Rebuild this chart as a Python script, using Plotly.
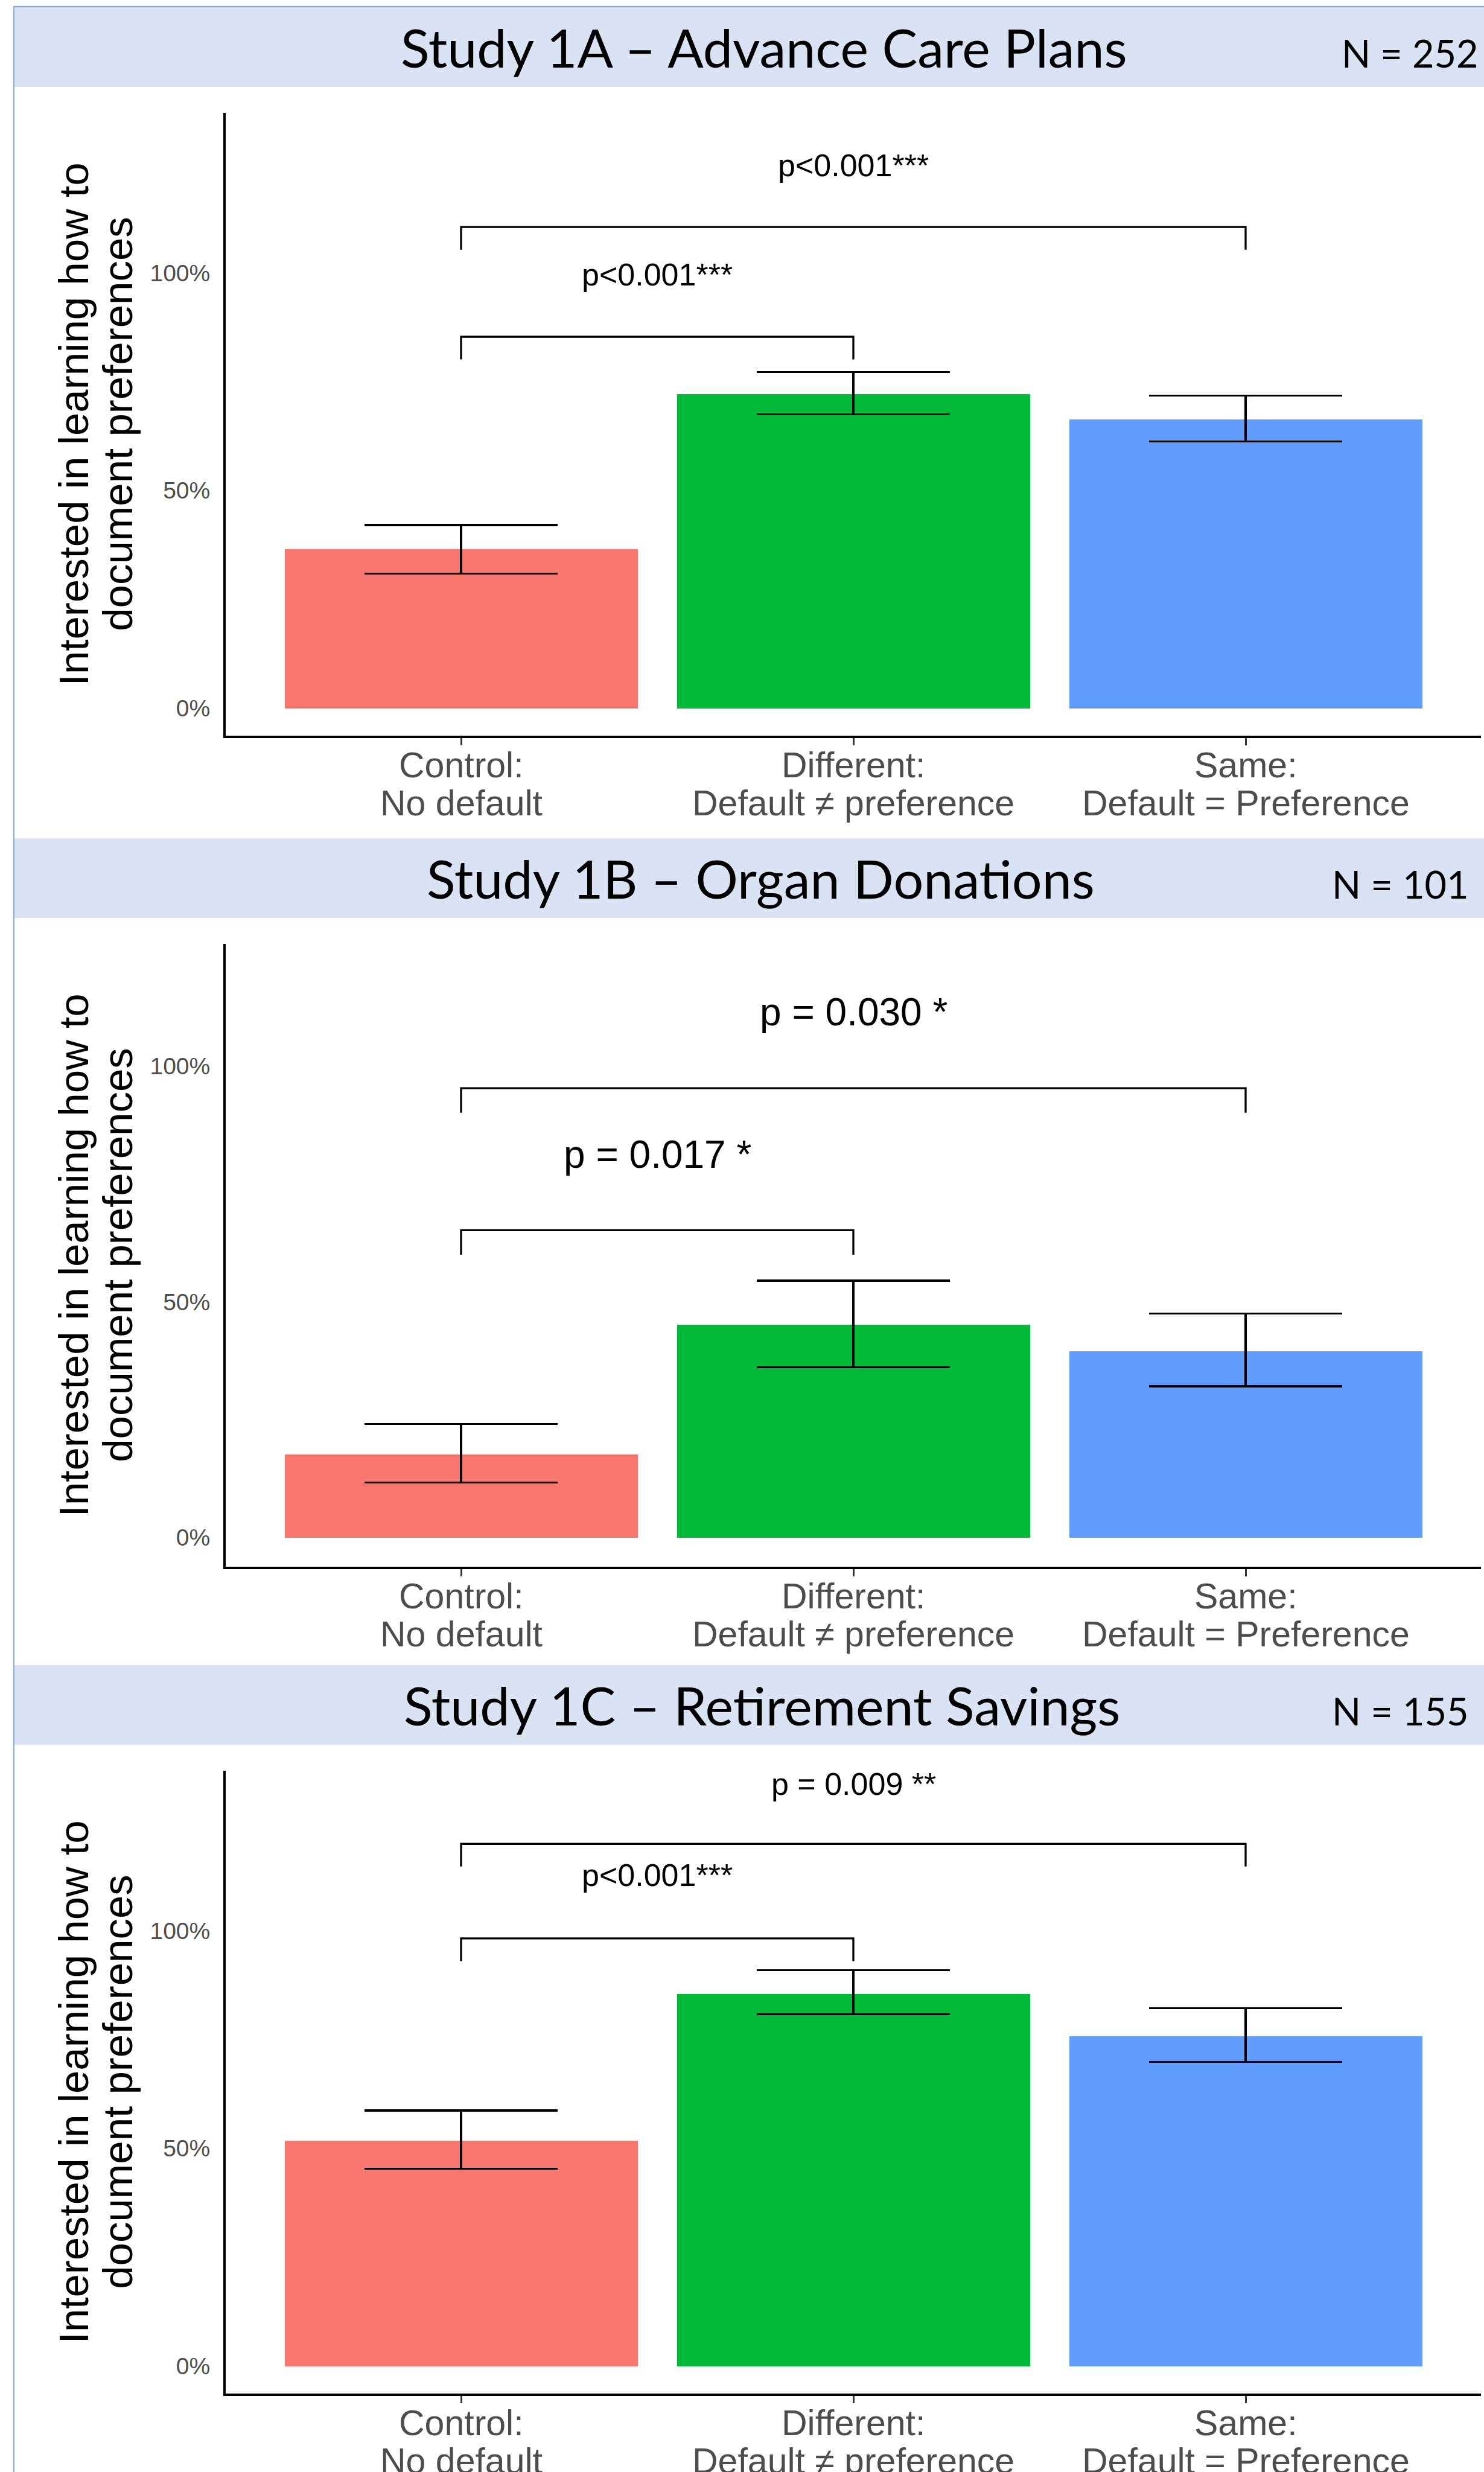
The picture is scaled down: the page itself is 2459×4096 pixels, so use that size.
import plotly.graph_objects as go

# ---------------- data ----------------
conditions = [1, 2, 3]
label_top = ["Control:", "Different:", "Same:"]
label_bottom = ["No default", "Default ≠ preference", "Default = Preference"]
bar_colors = ["#F8766D", "#00BA38", "#619CFF"]

study_titles = ["Study 1A – Advance Care Plans",
                "Study 1B – Organ Donations",
                "Study 1C – Retirement Savings"]
study_n = ["N = 252", "N = 101", "N = 155"]

share_1a = [0.365, 0.721, 0.663]
ci_low_1a = [0.309, 0.675, 0.613]
ci_high_1a = [0.421, 0.772, 0.718]

share_1b = [0.177, 0.452, 0.395]
ci_low_1b = [0.117, 0.361, 0.321]
ci_high_1b = [0.241, 0.545, 0.475]

share_1c = [0.518, 0.855, 0.757]
ci_low_1c = [0.453, 0.808, 0.699]
ci_high_1c = [0.587, 0.909, 0.822]

comparisons = [(1, 2), (1, 3)]
p_labels_1a = ["p<0.001***", "p<0.001***"]
p_labels_1b = ["p = 0.017 *", "p = 0.030 *"]
p_labels_1c = ["p<0.001***", "p = 0.009 **"]

bracket_y_1a = [0.853, 1.105]
bracket_y_1b = [0.652, 0.953]
bracket_y_1c = [0.982, 1.199]
p_label_y_1a = [0.996, 1.246]
p_label_y_1b = [0.813, 1.114]
p_label_y_1c = [1.127, 1.337]

y_ticks = [0, 0.5, 1.0]

# ---------------- layout constants (pixels) ----------------
W, H = 2459, 4096
PANEL_OFFSETS = [0, 1377, 2747]
AX_LEFT, AX_RIGHT = 374, 2454
AX_TOP, AX_BOTTOM = 187, 1218.5
BAND_TOP, BAND_BOTTOM = 12, 144
TITLE_Y, N_Y = 77.7, 87.3
TITLE_X = [1266, 1260, 1262]
N_X = [2336, 2320, 2320]
TICK1_Y, TICK2_Y = 1268, 1331
YT1_X, YT2_X = 122.5, 196
Y_RANGES = [[-0.062, 1.367], [-0.061, 1.259], [-0.062, 1.367]]
P_FONT = [52, 64, 52]
TIP = 0.052
BORDER = "#8FAADC"
BAND = "#DAE3F3"
LINE_W = 3.3


def px_x(x):
    return x / W


def px_y(y):
    return 1 - y / H


panels = [
    (share_1a, ci_low_1a, ci_high_1a, p_labels_1a, bracket_y_1a, p_label_y_1a),
    (share_1b, ci_low_1b, ci_high_1b, p_labels_1b, bracket_y_1b, p_label_y_1b),
    (share_1c, ci_low_1c, ci_high_1c, p_labels_1c, bracket_y_1c, p_label_y_1c),
]

fig = go.Figure()
shapes = []
annotations = []
layout_axes = {}

for i, (share, lo, hi, plabels, by, ply) in enumerate(panels):
    off = PANEL_OFFSETS[i]
    sfx = "" if i == 0 else str(i + 1)
    xa, ya = "x" + sfx, "y" + sfx

    fig.add_trace(go.Bar(
        x=conditions, y=share, width=0.9,
        marker=dict(color=bar_colors, line=dict(width=0)),
        error_y=dict(type="data", symmetric=False,
                     array=[h - s for h, s in zip(hi, share)],
                     arrayminus=[s - l for s, l in zip(share, lo)],
                     color="black", thickness=LINE_W, width=160),
        xaxis=xa, yaxis=ya, showlegend=False, hoverinfo="skip",
    ))

    for (a, b), yb, txt, yl in zip(comparisons, by, plabels, ply):
        fig.add_trace(go.Scatter(
            x=[a, a, b, b], y=[yb - TIP, yb, yb, yb - TIP],
            mode="lines", line=dict(color="black", width=LINE_W),
            xaxis=xa, yaxis=ya, showlegend=False, hoverinfo="skip",
        ))
        annotations.append(dict(
            x=(a + b) / 2, y=yl, xref=xa, yref=ya, text=txt, showarrow=False,
            xanchor="center", yanchor="middle",
            font=dict(family="Liberation Sans, Arial", size=P_FONT[i], color="black"),
        ))

    layout_axes["xaxis" + sfx] = dict(
        domain=[px_x(AX_LEFT), px_x(AX_RIGHT)], range=[0.4, 3.6],
        anchor=ya, showline=True, linecolor="black", linewidth=4,
        showgrid=False, zeroline=False, ticks="outside", tickvals=conditions,
        ticklen=12, tickwidth=2.5, tickcolor="#333333", showticklabels=False,
        fixedrange=True,
    )
    layout_axes["yaxis" + sfx] = dict(
        domain=[px_y(AX_BOTTOM + off), px_y(AX_TOP + off)], range=Y_RANGES[i],
        anchor=xa, showline=True, linecolor="black", linewidth=4,
        showgrid=False, zeroline=False, ticks="", tickvals=y_ticks,
        tickformat=".0%", ticklabelstandoff=14,
        tickfont=dict(family="Liberation Sans, Arial", size=39, color="#4D4D4D"),
        fixedrange=True,
    )

    # header band
    shapes.append(dict(type="rect", xref="paper", yref="paper",
                       x0=px_x(24), x1=1.0, y0=px_y(BAND_BOTTOM + off), y1=px_y(BAND_TOP + off),
                       fillcolor=BAND, line=dict(width=0), layer="below"))
    annotations.append(dict(x=px_x(TITLE_X[i]), y=px_y(TITLE_Y + off), xref="paper", yref="paper",
                            text=study_titles[i], showarrow=False, xanchor="center", yanchor="middle",
                            font=dict(family="Lato", size=88, color="black")))
    annotations.append(dict(x=px_x(N_X[i]), y=px_y(N_Y + off), xref="paper", yref="paper",
                            text=study_n[i], showarrow=False, xanchor="center", yanchor="middle",
                            font=dict(family="Lato", size=63, color="black")))

    # category labels under the x axis
    for c, t1, t2 in zip(conditions, label_top, label_bottom):
        annotations.append(dict(x=c, y=px_y(TICK1_Y + off), xref=xa, yref="paper", text=t1,
                                showarrow=False, xanchor="center", yanchor="middle",
                                font=dict(family="Liberation Sans, Arial", size=59, color="#4D4D4D")))
        annotations.append(dict(x=c, y=px_y(TICK2_Y + off), xref=xa, yref="paper", text=t2,
                                showarrow=False, xanchor="center", yanchor="middle",
                                font=dict(family="Liberation Sans, Arial", size=59, color="#4D4D4D")))

    # y axis title, two lines
    yc = px_y((AX_TOP + AX_BOTTOM) / 2 + off)
    for xx, txt in [(YT1_X, "Interested in learning how to"), (YT2_X, "document preferences")]:
        annotations.append(dict(x=px_x(xx), y=yc, xref="paper", yref="paper", text=txt,
                                textangle=-90, showarrow=False, xanchor="center", yanchor="middle",
                                font=dict(family="Liberation Sans, Arial", size=69, color="black")))

# outer frame lines
shapes.append(dict(type="line", xref="paper", yref="paper", x0=px_x(23), x1=px_x(23),
                   y0=0, y1=px_y(10.5), line=dict(color=BORDER, width=2)))
shapes.append(dict(type="line", xref="paper", yref="paper", x0=px_x(23), x1=1.0,
                   y0=px_y(11), y1=px_y(11), line=dict(color=BORDER, width=2.5)))

fig.update_layout(
    width=W, height=H, margin=dict(l=0, r=0, t=0, b=0),
    paper_bgcolor="white", plot_bgcolor="rgba(0,0,0,0)",
    shapes=shapes, annotations=annotations, bargap=0,
    **layout_axes,
)

fig.write_html("out.html")
